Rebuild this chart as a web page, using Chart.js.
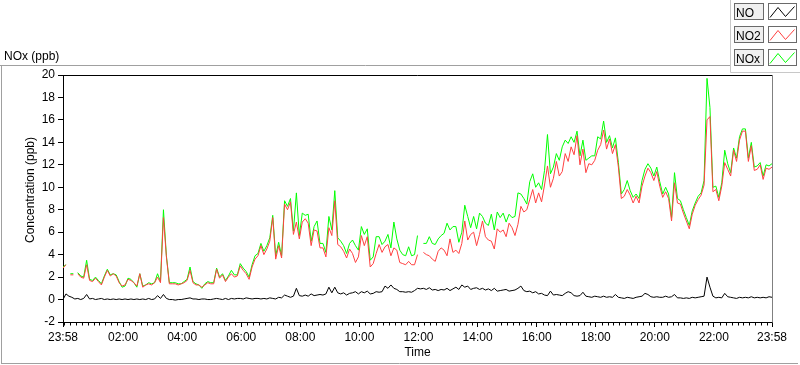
<!DOCTYPE html>
<html>
<head>
<meta charset="utf-8">
<script src="https://cdn.jsdelivr.net/npm/chart.js@4.4.1/dist/chart.umd.min.js"></script>
<style>
html,body{margin:0;padding:0;background:#fff;}
#wrap{width:800px;height:365px;position:relative;}
</style>
</head>
<body>
<div id="wrap"><canvas id="c" width="800" height="365"></canvas></div>
<script>
// ---- data (sampled every 6 minutes starting 23:58) ----
const STEP_MINUTES = 6;

const no2Values = [
 2.8, 3.1, null, 2.2, null, 2.3, 2.0, 1.9, 3.1, 1.7,
 1.6, 1.9, 1.6, 1.3, 2.0, 2.6, 2.1, 2.3, 2.1, 1.5,
 1.2, 1.3, 1.8, 1.7, 1.5, 1.2, 2.3, 1.1, 1.3, 1.4,
 1.3, 1.5, 2.0, 1.5, 7.3, 3.8, 1.4, 1.4, 1.4, 1.3,
 1.4, 1.5, 1.7, 2.6, 1.5, 1.3, 1.3, 1.1, 1.3, 1.5,
 1.4, 1.4, 2.7, 1.9, 2.2, 1.6, 2.0, 2.3, 2.0, 2.1,
 3.0, 2.6, 2.3, 1.8, 2.9, 3.6, 3.9, 4.8, 4.0, 4.5,
 5.2, 7.3, 3.6, 4.8, 3.7, 8.5, 8.0, 8.7, 5.8, 6.9,
 5.4, 6.9, 7.2, 6.8, 4.8, 6.2, 6.1, 4.6, 4.6, 3.8,
 6.4, 5.7, 8.8, 4.9, 4.7, 4.3, 3.7, 4.5, 4.1, 3.3,
 3.8, 5.7, 4.8, 5.6, 2.9, 3.2, 4.1, 4.9, 4.2, 4.7,
 4.9, 3.9, 4.6, 4.4, 3.3, 3.2, 3.1, 3.4, 3.1, 3.1,
 4.0, null, 4.2, 4.0, 3.9, 3.6, 3.4, 4.3, 4.6, 4.4,
 3.9, 5.4, 4.2, 4.4, 4.1, 5.0, 7.0, 5.3, 5.8, 6.0,
 4.8, 5.8, 7.0, 5.6, 5.3, 5.2, 4.5, 6.3, 6.0, 6.2,
 5.6, 6.8, 6.4, 5.7, 6.7, 8.3, 7.8, 8.0, 8.9, 9.8,
 8.6, 9.5, 8.7, 10.2, 11.9, 10.0, 10.8, 12.3, 11.0, 11.4,
 13.0, 12.3, 13.6, 12.9, 14.6, 12.0, 13.4, 11.3, 12.1, 12.0,
 12.4, 13.3, 13.8, 15.1, 13.4, 14.3, 13.0, 13.8, 11.8, 9.0,
 9.2, 9.8, 9.3, 8.6, 9.2, 8.6, 10.1, 11.0, 11.7, 11.3,
 10.6, 11.4, 10.1, 9.1, 9.6, 9.0, 7.0, 10.4, 8.6, 8.5,
 7.7, 7.0, 6.3, 7.6, 8.4, 8.9, 9.3, 10.2, 16.0, 16.3,
 9.6, 9.8, 8.8, 10.1, 12.2, 11.6, 11.0, 13.3, 12.3, 14.2,
 15.0, 15.0, 12.3, 13.7, 11.5, 11.6, 12.0, 10.7, 11.7, 11.6,
 11.8
];

const noxValues = [
 2.9, 3.1, null, 2.3, null, 2.4, 2.1, 2.0, 3.5, 1.8,
 1.7, 2.0, 1.7, 1.4, 2.1, 2.7, 2.2, 2.3, 2.2, 1.6,
 1.1, 1.2, 1.9, 1.8, 1.5, 1.1, 2.3, 1.2, 1.3, 1.5,
 1.4, 1.5, 2.3, 1.6, 8.0, 3.9, 1.5, 1.5, 1.5, 1.4,
 1.4, 1.6, 1.8, 2.9, 1.6, 1.4, 1.3, 1.0, 1.4, 1.6,
 1.5, 1.5, 2.8, 2.0, 2.3, 1.7, 2.1, 2.6, 2.2, 2.2,
 3.2, 2.8, 2.5, 2.0, 3.1, 3.9, 4.1, 5.0, 4.3, 4.8,
 5.5, 7.5, 3.9, 5.1, 3.9, 8.8, 8.3, 9.0, 6.1, 9.5,
 5.7, 7.7, 7.5, 7.6, 5.2, 6.5, 7.0, 5.0, 5.0, 4.2,
 7.4, 6.2, 9.7, 5.5, 5.2, 4.8, 4.1, 5.0, 5.3, 4.8,
 4.4, 6.5, 5.8, 6.3, 3.5, 3.8, 5.6, 5.6, 4.9, 5.2,
 5.8, 4.6, 6.9, 5.4, 4.4, 4.0, 3.9, 4.7, 3.9, 4.0,
 5.7, null, 5.0, 5.0, 5.6, 5.0, 4.9, 5.4, 5.7, 5.9,
 6.8, 6.2, 6.5, 6.5, 5.1, 6.0, 8.4, 7.4, 6.4, 7.4,
 6.3, 7.7, 7.4, 6.8, 6.6, 7.6, 6.2, 7.8, 7.3, 7.7,
 6.9, 7.6, 7.3, 7.4, 9.5, 9.4, 9.0, 8.5, 10.5, 11.2,
 10.0, 10.4, 9.8, 11.5, 14.7, 11.2, 11.8, 13.0, 12.4, 13.6,
 14.2, 13.9, 14.5, 14.0, 15.0, 12.8, 14.2, 12.4, 12.6, 12.8,
 12.8, 14.5, 14.3, 15.9, 14.0, 14.6, 13.5, 14.4, 12.2, 9.4,
 9.8, 10.6, 9.7, 9.1, 9.4, 9.0, 10.6, 11.6, 12.1, 11.7,
 11.0, 11.8, 10.5, 9.4, 10.0, 9.4, 7.3, 11.3, 9.0, 8.8,
 8.0, 7.3, 6.6, 7.9, 8.6, 9.2, 9.5, 10.6, 19.7, 17.1,
 10.0, 10.1, 9.1, 10.4, 13.3, 12.1, 11.3, 13.5, 12.6, 14.5,
 15.2, 15.2, 12.6, 14.0, 11.8, 11.9, 12.2, 11.0, 12.0, 11.9,
 12.1
];

const noValues = [
 0.0, 0.5, 0.3, 0.2, 0.05, 0.1, 0.0, 0.1, 0.45, 0.05,
 0.1, 0.0, 0.05, 0.1, 0.0, 0.05, 0.0, 0.05, 0.0, 0.05,
 0.0, 0.05, 0.0, 0.05, 0.0, 0.05, 0.0, 0.05, 0.0, 0.1,
 0.0, 0.05, 0.35, 0.1, 0.45, 0.1, 0.0, 0.0, -0.05, 0.0,
 0.0, 0.05, 0.1, 0.15, 0.05, 0.05, 0.0, 0.05, 0.05, 0.0,
 0.0, 0.05, 0.1, 0.05, 0.0, 0.1, 0.0, 0.1, 0.05, 0.1,
 0.1, 0.05, 0.15, 0.1, 0.05, 0.1, 0.1, 0.05, 0.1, 0.05,
 0.15, 0.1, 0.05, 0.2, 0.15, 0.4, 0.3, 0.2, 0.3, 1.0,
 0.35, 0.3, 0.4, 0.3, 0.5, 0.35, 0.4, 0.45, 0.4, 0.5,
 1.1, 0.6, 1.1, 0.6, 0.5, 0.6, 0.4, 0.55, 0.6, 0.7,
 0.5, 0.7, 0.6, 0.75, 0.5, 0.55, 0.7, 0.65, 0.7, 1.2,
 1.0, 1.3, 1.0, 0.9, 0.7, 0.7, 0.65, 0.7, 0.65, 0.8,
 1.0, 0.95, 1.0, 0.9, 1.05, 0.85, 0.9, 0.8, 0.9, 0.85,
 1.0, 0.8, 0.95, 1.1, 0.9, 1.3, 1.1, 1.2, 0.9, 1.0,
 1.05, 0.9, 1.0, 0.85, 0.95, 0.8, 1.0, 0.75, 0.8, 0.85,
 0.9, 0.75, 0.8, 0.85, 1.0, 1.2, 0.8, 0.7, 0.75, 0.6,
 0.7, 0.5, 0.55, 0.4, 0.35, 0.75, 0.4, 0.45, 0.4, 0.35,
 0.55, 0.7, 0.6, 0.35, 0.3, 0.35, 0.65, 0.3, 0.25, 0.2,
 0.3, 0.25, 0.2, 0.3, 0.2, 0.25, 0.2, 0.45, 0.2, 0.15,
 0.1, 0.2, 0.15, 0.1, 0.2, 0.25, 0.3, 0.55, 0.45, 0.25,
 0.2, 0.25, 0.2, 0.2, 0.3, 0.2, 0.25, 0.45, 0.15, 0.15,
 0.1, 0.15, 0.1, 0.2, 0.15, 0.2, 0.25, 0.3, 2.0, 1.1,
 0.3, 0.15, 0.2, 0.15, 0.55, 0.25, 0.2, 0.15, 0.1, 0.2,
 0.15, 0.2, 0.15, 0.25, 0.15, 0.2, 0.15, 0.2, 0.15, 0.25,
 0.2
];

const seriesNames = ['NO', 'NO2', 'NOx'];
const seriesColors = ['#000000', '#ff4040', '#00ff00'];

// x ticks: minutes since 23:58
const xTickMinutes = [0, 122, 242, 362, 482, 602, 722, 842, 962, 1082, 1202, 1322, 1440];
const xTickLabels = ['23:58', '02:00', '04:00', '06:00', '08:00', '10:00', '12:00', '14:00', '16:00', '18:00', '20:00', '22:00', '23:58'];
const MINOR_STEP = 12;
const MINOR_FIRST = 2;

const yMin = -2, yMax = 20, yStep = 2;
const yTitle = 'Concentration (ppb)';
const xTitle = 'Time';
const graphLabel = 'NOx (ppb)';

// ---- build ----
const FONT = "'Liberation Sans', Arial, sans-serif";
Chart.defaults.font.family = FONT;
Chart.defaults.font.size = 12;
Chart.defaults.color = '#000';

function toPoints(arr) {
  return arr.map((v, i) => ({ x: i * STEP_MINUTES, y: v }));
}

// isolated samples (gaps on both sides) are shown as a short dash
function isolatedRadius(vals) {
  return (c) => {
    const i = c.dataIndex;
    const v = vals[i];
    if (v === null || v === undefined) return 0;
    const prev = i > 0 ? vals[i - 1] : null;
    const next = i < vals.length - 1 ? vals[i + 1] : null;
    return (prev === null && next === null) ? 1.5 : 0;
  };
}

const valueSets = [noValues, no2Values, noxValues];
const datasets = valueSets.map((vals, k) => ({
  label: seriesNames[k],
  data: toPoints(vals),
  borderColor: seriesColors[k],
  backgroundColor: seriesColors[k],
  borderWidth: 1,
  pointRadius: isolatedRadius(vals),
  pointStyle: 'line',
  pointBorderWidth: 1,
  pointBorderColor: seriesColors[k],
  tension: 0,
  spanGaps: false,
  fill: false
}));

const decor = {
  id: 'decor',
  afterDraw(chart) {
    const { ctx, chartArea: a, scales } = chart;
    const xs = scales.x;
    ctx.save();
    ctx.lineWidth = 1;

    // outer frame
    ctx.strokeStyle = '#a0a0a0';
    ctx.beginPath();
    ctx.moveTo(0, 65.5); ctx.lineTo(731, 65.5);
    ctx.moveTo(1.5, 65.5); ctx.lineTo(1.5, 363.5);
    ctx.moveTo(1, 363.5); ctx.lineTo(798, 363.5);
    ctx.stroke();

    // legend panel edges
    ctx.strokeStyle = '#c8c8c8';
    ctx.beginPath();
    ctx.moveTo(730.5, 0); ctx.lineTo(730.5, 72.5);
    ctx.lineTo(800, 72.5);
    ctx.stroke();

    // plot top and right border
    const L = Math.round(a.left) + 0.5, R = Math.round(a.right) + 0.5;
    const T = Math.round(a.top) + 0.5, B = Math.round(a.bottom) + 0.5;
    ctx.strokeStyle = '#000';
    ctx.beginPath();
    ctx.moveTo(L - 0.5, T); ctx.lineTo(R, T);
    ctx.stroke();
    ctx.strokeStyle = '#808080';
    ctx.beginPath();
    ctx.moveTo(R, T); ctx.lineTo(R, B);
    ctx.stroke();

    // minor ticks on x axis
    ctx.strokeStyle = '#000';
    ctx.beginPath();
    for (let m = MINOR_FIRST; m < xs.max; m += MINOR_STEP) {
      if (xTickMinutes.includes(m)) continue;
      const px = Math.round(xs.getPixelForValue(m)) + 0.5;
      ctx.moveTo(px, B); ctx.lineTo(px, B + 3);
    }
    ctx.stroke();

    // y title
    ctx.fillStyle = '#000';
    ctx.font = '12px ' + FONT;
    ctx.textAlign = 'center';
    ctx.textBaseline = 'middle';
    ctx.save();
    ctx.translate(31, 190);
    ctx.rotate(-Math.PI / 2);
    ctx.fillText(yTitle, 0, 0);
    ctx.restore();

    // graph label
    ctx.textAlign = 'left';
    ctx.textBaseline = 'alphabetic';
    ctx.fillText(graphLabel, 4, 60);

    // legend
    chart.data.datasets.forEach((ds, k) => {
      const top = 3 + 23 * k;
      ctx.fillStyle = '#f0f0f0';
      ctx.fillRect(734, top, 29, 16);
      ctx.strokeStyle = '#6a6a6a';
      ctx.strokeRect(734.5, top + 0.5, 29, 16);
      ctx.fillStyle = '#000';
      ctx.fillText(ds.label, 736, top + 13.5);
      ctx.fillStyle = '#fff';
      ctx.fillRect(768, top, 28, 16);
      ctx.strokeStyle = '#6a6a6a';
      ctx.strokeRect(768.5, top + 0.5, 28, 16);
      ctx.strokeStyle = ds.borderColor;
      ctx.beginPath();
      ctx.moveTo(770, top + 14.5);
      ctx.lineTo(778, top + 4.5);
      ctx.lineTo(785.5, top + 13.5);
      ctx.lineTo(794.5, top + 3.5);
      ctx.stroke();
    });
    ctx.restore();
  }
};

new Chart(document.getElementById('c'), {
  type: 'line',
  data: { datasets },
  options: {
    responsive: false,
    animation: false,
    events: [],
    layout: { padding: { left: 0, right: 28, top: 75, bottom: 0 } },
    plugins: { legend: { display: false }, tooltip: { enabled: false }, title: { display: false } },
    scales: {
      x: {
        type: 'linear',
        min: xTickMinutes[0],
        max: xTickMinutes[xTickMinutes.length - 1],
        afterBuildTicks: (s) => { s.ticks = xTickMinutes.map(v => ({ value: v })); },
        afterFit: (s) => { s.height = 43; },
        ticks: {
          autoSkip: false, maxRotation: 0, minRotation: 0, padding: 3, color: '#000',
          callback: (v) => { const i = xTickMinutes.indexOf(v); return i >= 0 ? xTickLabels[i] : ''; }
        },
        grid: { drawOnChartArea: false, drawTicks: true, tickLength: 5, color: '#000', tickColor: '#000' },
        border: { display: true, color: '#000', width: 1 },
        title: { display: true, text: xTitle, color: '#000', font: { size: 12 }, padding: { top: 0, bottom: 5 } }
      },
      y: {
        min: yMin, max: yMax,
        afterFit: (s) => { s.width = 63; },
        ticks: { stepSize: yStep, padding: 3, color: '#000' },
        grid: { drawOnChartArea: false, drawTicks: true, tickLength: 5, color: '#000', tickColor: '#000' },
        border: { display: true, color: '#000', width: 1 },
        title: { display: false }
      }
    }
  },
  plugins: [decor]
});
</script>
</body>
</html>
